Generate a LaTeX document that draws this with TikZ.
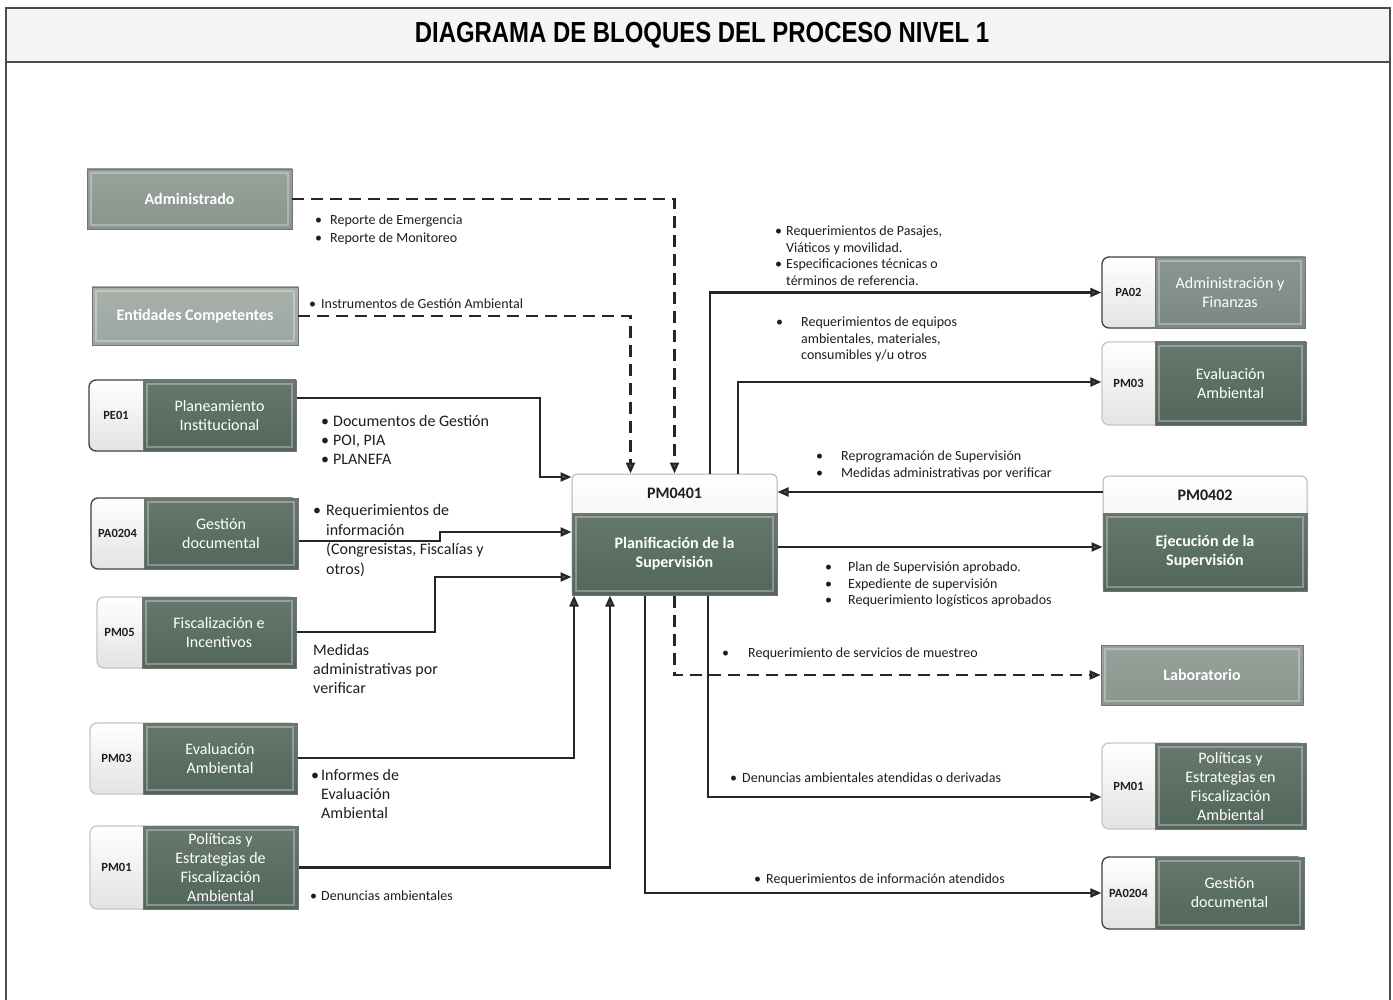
\documentclass[tikz,border=0pt]{standalone}
\usepackage{fontspec}
\usepackage{graphicx}
\setmainfont{Carlito}
\newfontfamily\titlefont{Liberation Sans}
\usetikzlibrary{arrows.meta}

\definecolor{dk}{HTML}{52665B}
\definecolor{lt}{HTML}{8A958E}
\definecolor{ltb}{HTML}{9DA6A0}
\definecolor{md}{HTML}{7B8881}
\definecolor{ink}{HTML}{1E1E1E}

% bullet with fixed hanging indent, and matching indent for continuation lines
\newcommand\bi[1][12]{\makebox[#1pt][l]{\textbullet}}
\newcommand\bs[1][12]{\hspace*{#1pt}}

% process box: code tab on the left, coloured block on the right
% [opts]{name}{code}{x1}{y1}{x2}{y2}{split x}{text}
\newcommand\twobox[9][]{%
  \begin{scope}[#1]
    \node[shell, minimum width={#6-#4}, minimum height={#7-#5}] (#2) at ({(#4+#6)/2},{(#5+#7)/2}) {};
    \node[block, minimum width={#6-#8}, minimum height={#7-#5}] (#2-t) at ({(#8+#6)/2},{(#5+#7)/2}) {#9};
    \node[code] (#2-c) at ({(#4+#8)/2},{(#5+#7)/2}) {#3};
  \end{scope}}

\begin{document}
\begin{tikzpicture}[x=1pt,y=-1pt,
  shell/.style={draw=black!75, line width=1.3pt, rounded corners=7pt,
    top color=white, bottom color=gray!22, inner sep=0pt},
  block/.style={draw=black!55, line width=0.8pt, top color=dk!88!white, bottom color=dk,
    text=white, align=center, inner sep=0pt, font=\fontsize{16}{19}\selectfont,
    path picture={\draw[white, opacity=0.3, line width=1.2pt]
      ([shift={(4pt,-4pt)}]path picture bounding box.north west) rectangle
      ([shift={(-4pt,4pt)}]path picture bounding box.south east);}},
  lightblock/.style={block, top color=#1!88!white, bottom color=#1},
  code/.style={font=\bfseries\fontsize{12.5}{14}\selectfont, text=ink, inner sep=0pt},
  flow/.style={line width=2.2pt, draw=black!85,
    -{Triangle[length=11pt,width=9pt,fill=black!65]}},
  dflow/.style={flow, dash pattern=on 12pt off 7pt},
  note/.style={anchor=north west, inner sep=0pt, align=left, text=ink, yshift=-4.5pt,
    font=\fontsize{14}{16.5}\selectfont, execute at begin node=\strut},
  bignote/.style={note, font=\fontsize{16}{19.5}\selectfont}
]
\useasboundingbox (0,0) rectangle (1393,1000);

% sheet frame and title band
\draw[line width=1.5pt, draw=black!70, fill=white] (6,8) rectangle (1390,1020);
\draw[line width=1.5pt, draw=black!70, fill=gray!8] (6,8) rectangle (1390,62);
\node (title) at (702,35) {\titlefont\bfseries\fontsize{29}{32}\selectfont
  \scalebox{0.825}[1]{DIAGRAMA DE BLOQUES DEL PROCESO NIVEL 1}};

% ---------- suppliers (left) ----------
\node[lightblock=lt, font=\bfseries\fontsize{16}{19}\selectfont,
  minimum width=205, minimum height=60] (adm) at (189.5,199) {Administrado};
\node[lightblock=ltb, font=\bfseries\fontsize{16}{19}\selectfont,
  minimum width=206, minimum height=58] (ent) at (195,316) {Entidades Competentes};

\twobox{pe01}{PE01}{89}{380}{296}{451}{143}{Planeamiento\\Institucional}
\twobox{pa0204L}{PA0204}{91}{498}{298}{569}{144}{Gestión\\documental}
\twobox[shell/.append style={draw=gray!45}]{pm05}{PM05}{97}{597}{296}{668}{142}{Fiscalización e\\Incentivos}
\twobox[shell/.append style={draw=gray!45}]{pm03L}{PM03}{90}{723}{297}{794}{143}{Evaluación\\Ambiental}
\twobox[shell/.append style={draw=gray!45}]{pm01L}{PM01}{90}{826}{298}{909}{143}{Políticas y\\Estrategias de\\Fiscalización\\Ambiental}

% ---------- central process ----------
\node[draw=gray!60, line width=1pt, rounded corners=5pt, top color=white, bottom color=gray!20,
  minimum width=205, minimum height=121, inner sep=0pt] (pm0401) at (674.5,534.5) {};
\node[block, font=\bfseries\fontsize{16}{19}\selectfont, minimum width=205, minimum height=82]
  (pm0401-t) at (674.5,554) {Planificación de la\\Supervisión};
\node[code, font=\bfseries\fontsize{16}{18}\selectfont] (pm0401-c) at (674.5,493) {PM0401};

% ---------- clients (right) ----------
\twobox[block/.append style={top color=md!88!white, bottom color=md}]{pa02}{PA02}{1102}{257}{1305}{328}{1155}{Administración y\\Finanzas}
\twobox[shell/.append style={draw=gray!45}]{pm03R}{PM03}{1102}{342}{1306}{425}{1155}{Evaluación\\Ambiental}

\node[draw=gray!60, line width=1pt, rounded corners=5pt, top color=white, bottom color=gray!20,
  minimum width=204, minimum height=115, inner sep=0pt] (pm0402) at (1205,533.5) {};
\node[block, font=\bfseries\fontsize{16}{19}\selectfont, minimum width=204, minimum height=78]
  (pm0402-t) at (1205,552) {Ejecución de la\\Supervisión};
\node[code, font=\bfseries\fontsize{16}{18}\selectfont] (pm0402-c) at (1205,495) {PM0402};

\node[lightblock=lt, font=\bfseries\fontsize{16}{19}\selectfont,
  minimum width=202, minimum height=60] (lab) at (1202,675) {Laboratorio};

\twobox[shell/.append style={draw=gray!45}]{pm01R}{PM01}{1102}{743}{1306}{829}{1155}{Políticas y\\Estrategias en\\Fiscalización\\Ambiental}
\twobox{pa0204R}{PA0204}{1102}{857}{1304}{929}{1155}{Gestión\\documental}

% ---------- inputs ----------
\draw[dflow] (adm.east) -| (pm0401.north);
\draw[dflow] (ent.east) -| ([xshift=-44pt]pm0401.north);
\draw[flow] (pe01.east |- 0,398) -| (540,477) -- (pm0401.west |- 0,477);
\draw[flow] (pa0204L.east |- 0,541) -- (440,541) -- (440,532) -- (pm0401.west |- 0,532);
\draw[flow] (pm05.east |- 0,632) -- (435,632) -- (435,577) -- (pm0401.west |- 0,577);
\draw[flow] (pm03L.east |- 0,758) -| (pm0401.south -| 574,0);
\draw[flow] (pm01L.east) -| (pm0401.south -| 610,0);
\draw[flow] (pm0402.west |- 0,492) -- (pm0401.east |- 0,492);

% ---------- outputs ----------
\draw[flow] (pm0401.north -| 710,0) |- (pa02.west);
\draw[flow] (pm0401.north -| 738,0) |- (pm03R.west |- 0,382);
\draw[flow] (pm0401.east |- 0,547) -- (pm0402.west |- 0,547);
\draw[dflow] (pm0401.south) |- (lab.west);
\draw[flow] (pm0401.south -| 708,0) |- (pm01R.west |- 0,797);
\draw[flow] (pm0401.south -| 645,0) |- (pa0204R.west);

% ---------- flow labels ----------
\node[note, font=\fontsize{14}{18}\selectfont] (n1) at (315,210.5)
  {\bi[15]Reporte de Emergencia\\\bi[15]Reporte de Monitoreo};
\node[note] (n2) at (309,292.5) {\bi[12]Instrumentos de Gestión Ambiental};
\node[bignote, font=\fontsize{16}{19}\selectfont] (n3) at (321,411)
  {\bi[12]Documentos de Gestión\\\bi[12]POI, PIA\\\bi[12]PLANEFA};
\node[bignote] (n4) at (313,500)
  {\bi[13]Requerimientos de\\\bs[13]información\\\bs[13](Congresistas, Fiscalías y\\\bs[13]otros)};
\node[bignote, font=\fontsize{16}{19}\selectfont] (n5) at (313,640)
  {Medidas\\administrativas por\\verificar};
\node[bignote, font=\fontsize{16}{19}\selectfont] (n6) at (311,765)
  {\bi[10]Informes de\\\bs[10]Evaluación\\\bs[10]Ambiental};
\node[note] (n7) at (310,884.5) {\bi[11]Denuncias ambientales};

\node[note] (n8) at (775,221.5)
  {\bi[11]Requerimientos de Pasajes,\\\bs[11]Viáticos y movilidad.\\\bi[11]Especificaciones técnicas o\\\bs[11]términos de referencia.};
\node[note] (n9) at (776,312.5)
  {\bi[25]Requerimientos de equipos\\\bs[25]ambientales, materiales,\\\bs[25]consumibles y/u otros};
\node[note, font=\fontsize{14}{17}\selectfont] (n10) at (816,446.5)
  {\bi[25]Reprogramación de Supervisión\\\bi[25]Medidas administrativas por verificar};
\node[note] (n11) at (825,557.5)
  {\bi[23]Plan de Supervisión aprobado.\\\bi[23]Expediente de supervisión\\\bi[23]Requerimiento logísticos aprobados};
\node[note] (n12) at (722,641.5) {\bi[26]Requerimiento de servicios de muestreo};
\node[note] (n13) at (730,766.5) {\bi[12]Denuncias ambientales atendidas o derivadas};
\node[note] (n14) at (754,867.5) {\bi[12]Requerimientos de información atendidos};
\end{tikzpicture}
\end{document}
